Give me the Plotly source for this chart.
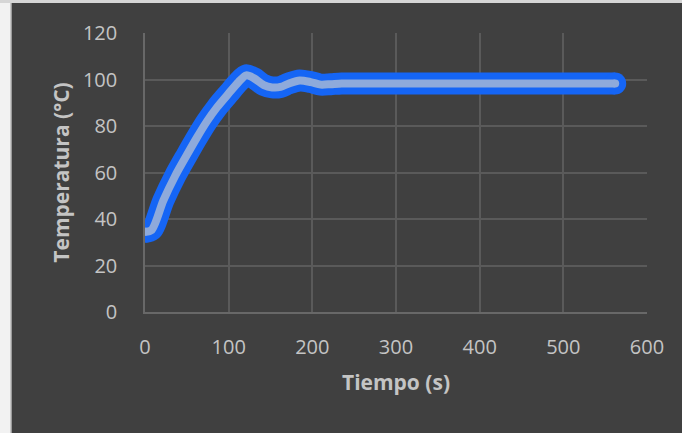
import plotly.graph_objects as go

# Data
tiempo = [0, 8, 22, 36, 50, 62, 74, 86, 100, 112, 121, 130, 142, 152,
          162, 172, 185, 198, 210, 222, 235, 260, 300, 350, 400, 450, 500, 562]
temperatura = [34.5, 35.3, 48, 58.5, 67.5, 75, 82, 88, 94, 99, 101.8, 100.6, 97.6, 96.6,
               96.8, 98.3, 99.6, 98.9, 97.8, 98.0, 98.3,
               98.3, 98.3, 98.3, 98.3, 98.3, 98.3, 98.3]

x_ticks = [0, 100, 200, 300, 400, 500, 600]
y_ticks = [0, 20, 40, 60, 80, 100, 120]

BG = "#404040"
GRID = "#5a5a5a"
TXT = "#c4c4c4"
OUTER = "#1565f5"
INNER = "#8eaadb"
FONT = "'Open Sans', 'Noto Sans', sans-serif"

fig = go.Figure()
fig.add_trace(go.Scatter(x=tiempo, y=temperatura, mode="lines",
                         line=dict(color=OUTER, width=22, shape="spline", smoothing=0.8),
                         hoverinfo="skip", showlegend=False))
fig.add_trace(go.Scatter(x=[tiempo[0], tiempo[-1]], y=[temperatura[0], temperatura[-1]],
                         mode="markers", marker=dict(color=OUTER, size=22, line=dict(width=0)),
                         hoverinfo="skip", showlegend=False))
fig.add_trace(go.Scatter(x=tiempo, y=temperatura, mode="lines",
                         line=dict(color=INNER, width=8, shape="spline", smoothing=0.8),
                         showlegend=False))
fig.add_trace(go.Scatter(x=[tiempo[0], tiempo[-1]], y=[temperatura[0], temperatura[-1]],
                         mode="markers", marker=dict(color=INNER, size=8, line=dict(width=0)),
                         hoverinfo="skip", showlegend=False))

# light frame on left and top (outside the dark chart area)
fig.add_shape(type="rect", xref="paper", yref="paper", x0=-0.30, x1=-0.2669, y0=-0.5, y1=1.2,
              fillcolor="#f2f2f2", line=dict(width=0), layer="above")
fig.add_shape(type="rect", xref="paper", yref="paper", x0=-0.30, x1=1.2, y0=1.1075, y1=1.2,
              fillcolor="#d6d6d6", line=dict(width=0), layer="above")
fig.add_shape(type="line", xref="paper", yref="paper", x0=-0.2669, x1=-0.2669, y0=-0.5, y1=1.1075,
              line=dict(color="#b8b8b8", width=1.5), layer="above")

fig.update_layout(
    width=682, height=433,
    margin=dict(l=145, r=35, t=33, b=121),
    paper_bgcolor=BG, plot_bgcolor=BG,
    font=dict(family=FONT, color=TXT, size=20),
)
fig.update_xaxes(range=[0, 600], tickvals=x_ticks, ticktext=[str(v) for v in x_ticks],
                 showgrid=True, gridcolor=GRID, gridwidth=1.5, zeroline=False,
                 showline=True, linecolor="#686868", linewidth=1.5, automargin=False,
                 ticks="", ticklabelstandoff=16,
                 title=dict(text="<b>Tiempo (s)</b>", font=dict(size=21, color=TXT), standoff=17))
fig.update_yaxes(range=[0, 120], tickvals=y_ticks, ticktext=[str(v) for v in y_ticks],
                 showgrid=True, gridcolor=GRID, gridwidth=1.5, zeroline=False,
                 showline=True, linecolor="#686868", linewidth=1.5, automargin=False,
                 ticks="", ticklabelstandoff=22,
                 title=dict(text="<b>Temperatura (°C)</b>", font=dict(size=21, color=TXT), standoff=8))

fig.write_html("out.html", config={"displayModeBar": False},
               post_script="document.body.style.margin='0';")
